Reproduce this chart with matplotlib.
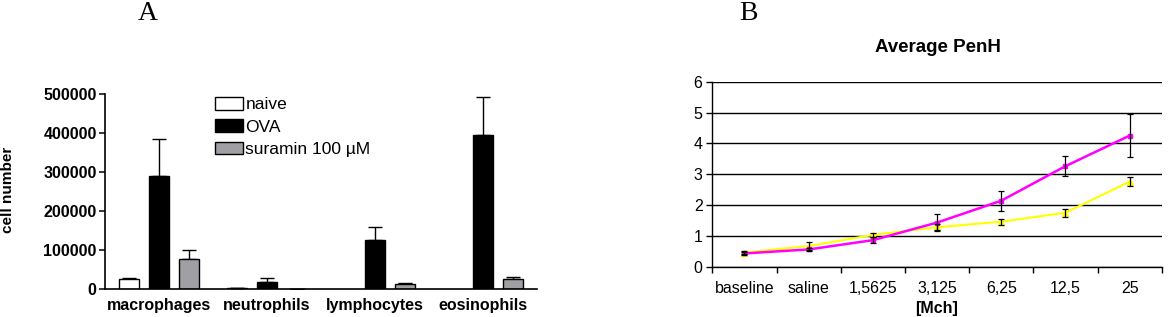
import matplotlib
matplotlib.use("Agg")
import matplotlib.pyplot as plt
import numpy as np
from matplotlib.patches import Patch

# ---------------- data ----------------
cell_types = ["macrophages", "neutrophils", "lymphocytes", "eosinophils"]
groups = ["naive", "OVA", "suramin 100 \u00b5M"]
naive_vals = [25500, 3000, 0, 0]
naive_err = [2500, 500, 0, 0]
ova_vals = [290000, 18500, 126000, 395000]
ova_err = [95000, 9500, 33000, 97000]
suramin_vals = [78000, 1500, 13500, 25500]
suramin_err = [23000, 500, 2500, 5000]

doses = ["baseline", "saline", "1,5625", "3,125", "6,25", "12,5", "25"]
penh_magenta = [0.43, 0.56, 0.86, 1.43, 2.14, 3.26, 4.25]
penh_magenta_err = [0.05, 0.06, 0.09, 0.28, 0.33, 0.33, 0.70]
penh_yellow = [0.46, 0.67, 1.03, 1.28, 1.46, 1.75, 2.76]
penh_yellow_err = [0.05, 0.12, 0.06, 0.10, 0.10, 0.13, 0.14]

W, H = 1169, 317
fig = plt.figure(figsize=(W / 100, H / 100), dpi=100)
sans = "Liberation Sans"
serif = "Liberation Serif"

def fr(x0, y0, x1, y1):
    return [x0 / W, 1 - y1 / H, (x1 - x0) / W, (y1 - y0) / H]

# ---------------- panel A ----------------
axA = fig.add_axes(fr(105, 94.3, 537, 289.3))
x = np.arange(len(cell_types))
off = 0.278
bw = 0.185
colors = ["white", "black", "#a0a0a4"]
vals = [naive_vals, ova_vals, suramin_vals]
errs = [naive_err, ova_err, suramin_err]
for i, (v, e, c) in enumerate(zip(vals, errs, colors)):
    xi = x + (i - 1) * off
    v = np.array(v)
    e = np.array(e)
    m = v > 0
    axA.bar(xi[m], v[m], width=bw, color=c, edgecolor="black", linewidth=1.0, zorder=2)
    axA.errorbar(xi[m], v[m], yerr=[np.zeros(m.sum()), e[m]], fmt="none", ecolor="black",
                 elinewidth=1.0, capsize=5, capthick=1.0, zorder=1)
axA.set_xlim(-0.5, 3.5)
axA.set_ylim(0, 500000)
axA.set_yticks([0, 100000, 200000, 300000, 400000, 500000])
axA.set_yticklabels(["0", "100000", "200000", "300000", "400000", "500000"],
                    fontfamily=sans, fontweight="bold", fontsize=11.5)
axA.set_xticks(x)
axA.set_xticklabels(cell_types, fontfamily=sans, fontweight="bold", fontsize=11.5)
axA.tick_params(axis="x", length=0, pad=6)
axA.tick_params(axis="y", length=4, width=1.1, pad=2)
for s in ["top", "right"]:
    axA.spines[s].set_visible(False)
for s in ["left", "bottom"]:
    axA.spines[s].set_linewidth(1.2)
fig.text(8 / W, 1 - 190 / H, "cell number", rotation=90, ha="center", va="center",
         fontfamily=sans, fontweight="bold", fontsize=11)
handles = [Patch(facecolor=c, edgecolor="black", linewidth=1.0) for c in colors]
axA.legend(handles, groups, loc="upper left", bbox_to_anchor=(215 / W, 1 - 97 / H),
           bbox_transform=fig.transFigure, frameon=False, borderpad=0, borderaxespad=0,
           handlelength=1.6, handleheight=0.75, handletextpad=0.15, labelspacing=0.4,
           prop={"family": sans, "size": 12.5})
fig.text(148 / W, 1 - 13 / H, "A", ha="center", va="center", fontfamily=serif, fontsize=20)

# ---------------- panel B ----------------
axB = fig.add_axes(fr(712.3, 81.7, 1161.7, 266.7))
xp = np.arange(len(doses)) + 0.5
axB.plot(xp, penh_yellow, color="#ffff00", linewidth=1.5, marker="^", markersize=4,
         markeredgecolor="#ffff00", zorder=3)
axB.errorbar(xp, penh_yellow, yerr=penh_yellow_err, fmt="none", ecolor="black",
             elinewidth=0.9, capsize=2.5, capthick=0.9, zorder=4)
axB.plot(xp, penh_magenta, color="#ff00ff", linewidth=1.8, marker="s", markersize=3.5,
         markeredgecolor="#ff00ff", zorder=3)
axB.errorbar(xp, penh_magenta, yerr=penh_magenta_err, fmt="none", ecolor="black",
             elinewidth=0.9, capsize=2.5, capthick=0.9, zorder=4)
axB.set_xlim(0, len(doses))
axB.set_ylim(0, 6)
axB.set_yticks(range(0, 7))
axB.set_yticklabels([str(v) for v in range(0, 7)], fontfamily=sans, fontsize=11.5)
axB.yaxis.grid(True, color="black", linewidth=1.0)
axB.set_axisbelow(True)
axB.set_xticks(xp)
axB.set_xticklabels(doses, fontfamily=sans, fontsize=11.5)
axB.set_xticks(np.arange(len(doses) + 1), minor=True)
axB.tick_params(axis="x", which="major", length=0, pad=10)
axB.tick_params(axis="x", which="minor", length=4, width=1.0)
axB.tick_params(axis="y", length=4, width=1.0, pad=3)
for s in ["top", "right"]:
    axB.spines[s].set_visible(False)
for s in ["left", "bottom"]:
    axB.spines[s].set_linewidth(1.0)
fig.text(938 / W, 1 - 48 / H, "Average PenH", ha="center", va="center",
         fontfamily=sans, fontweight="bold", fontsize=13.5)
fig.text(937 / W, 1 - 308 / H, "[Mch]", ha="center", va="center",
         fontfamily=sans, fontweight="bold", fontsize=11.5)
fig.text(748 / W, 1 - 13 / H, "B", ha="center", va="center", fontfamily=serif, fontsize=20)

fig.savefig("out.png", dpi=100)
